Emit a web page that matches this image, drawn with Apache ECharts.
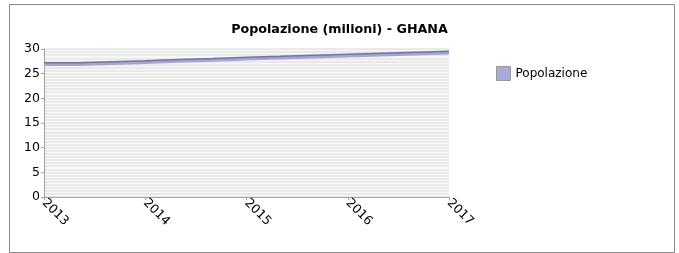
<!DOCTYPE html>
<html>
<head>
<meta charset="utf-8">
<script src="https://cdn.jsdelivr.net/npm/echarts@6/dist/echarts.min.js"></script>
<style>
html,body{margin:0;padding:0;background:#fff;}
#chart{width:679px;height:253px;}
</style>
</head>
<body>
<div id="chart"></div>
<script>
const chartTitle = "Popolazione (milioni) - GHANA";
const seriesName = "Popolazione";
const yearTicks = [2013, 2014, 2015, 2016, 2017];
const periodStart = [2013, 2013.333, 2013.667, 2014, 2014.333, 2014.667, 2015, 2015.333, 2015.667, 2016, 2016.333, 2016.667];
const periodEnd = 2017;
const popValues = [26.8, 27.0, 27.2, 27.45, 27.65, 27.9, 28.1, 28.35, 28.55, 28.75, 28.95, 29.15];
const yTicks = [0, 5, 10, 15, 20, 25, 30];

const data = periodStart.map((x, i) => [x, popValues[i]]);
data.push([periodEnd, popValues[popValues.length - 1]]);

const chart = echarts.init(document.getElementById('chart'), null, {renderer: 'canvas'});
const font = 'DejaVu Sans';
chart.setOption({
  animation: false,
  backgroundColor: '#ffffff',
  graphic: [{
    type: 'rect', left: 7, top: 2, z: -10, silent: true,
    shape: {width: 665, height: 248},
    style: {fill: 'none', stroke: '#8a8a8a', lineWidth: 1}
  }],
  title: {
    text: chartTitle, left: 'center', top: 18,
    textStyle: {fontFamily: font, fontSize: 12.7, fontWeight: 'bold', color: '#000'}
  },
  legend: {
    left: 491, top: 61, orient: 'vertical',
    itemWidth: 14, itemHeight: 14, icon: 'rect',
    textStyle: {fontFamily: font, fontSize: 12, color: '#000'},
    data: [{name: seriesName, itemStyle: {color: '#aaaad8', borderColor: '#9a9a9a', borderWidth: 1}}]
  },
  grid: {
    left: 44, right: 230, top: 49, bottom: 56,
    show: true, backgroundColor: '#f8f8f8', borderWidth: 0
  },
  xAxis: {
    type: 'value', min: yearTicks[0], max: yearTicks[yearTicks.length - 1], interval: 1,
    axisLine: {show: true, lineStyle: {color: '#a0a0a0'}},
    axisTick: {show: true, length: 3, lineStyle: {color: '#a0a0a0'}},
    splitLine: {show: false},
    axisLabel: {
      rotate: -45, margin: 4, fontFamily: font, fontSize: 12.5, color: '#000',
      formatter: v => String(v)
    }
  },
  yAxis: {
    type: 'value', min: yTicks[0], max: yTicks[yTicks.length - 1], interval: 5,
    axisLine: {show: true, lineStyle: {color: '#a0a0a0'}},
    axisTick: {show: true, length: 3, lineStyle: {color: '#a0a0a0'}},
    axisLabel: {margin: 4, fontFamily: font, fontSize: 12.5, color: '#000'},
    splitLine: {show: true, lineStyle: {color: '#e4e4e4', width: 1.5}},
    minorTick: {show: false, splitNumber: 8},
    minorSplitLine: {show: true, lineStyle: {color: '#e4e4e4', width: 1.5}}
  },
  series: [{
    name: seriesName, type: 'line', step: 'end', data: data,
    showSymbol: false, symbol: 'none',
    itemStyle: {color: '#aaaad8'},
    lineStyle: {color: '#a4a4d6', width: 2.5, shadowColor: '#74749c', shadowBlur: 0, shadowOffsetY: -1.5}
  }]
});
</script>
</body>
</html>
